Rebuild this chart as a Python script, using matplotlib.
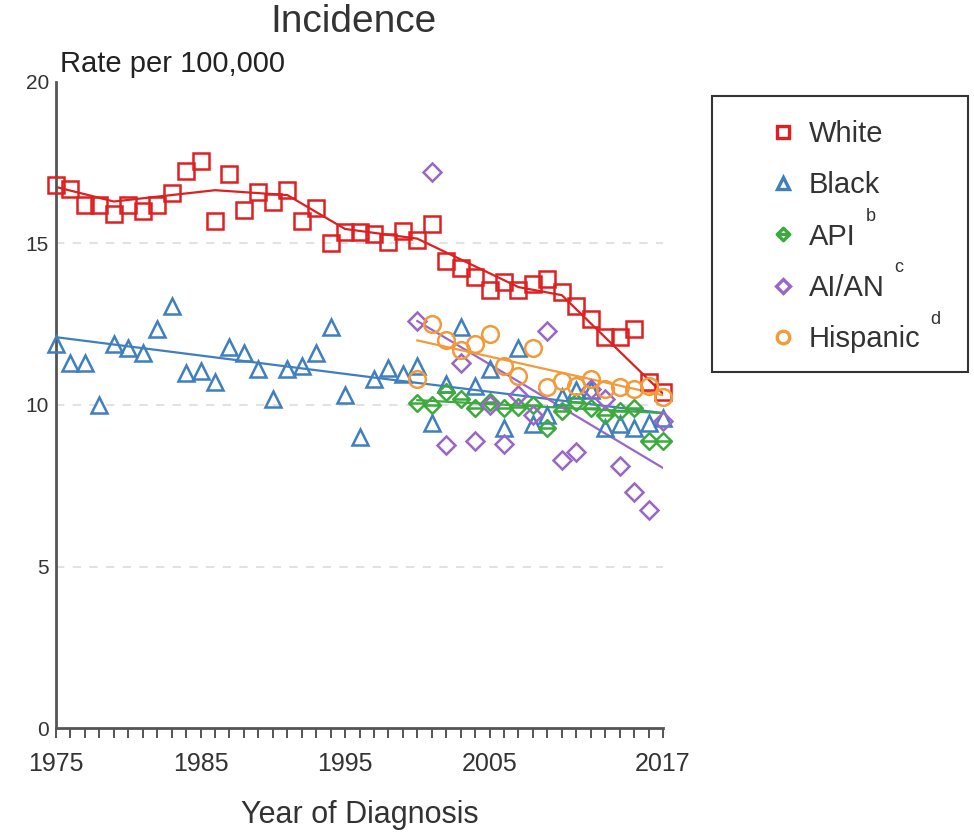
import matplotlib
matplotlib.use('Agg')
import matplotlib.pyplot as plt
from matplotlib.path import Path
from matplotlib.lines import Line2D

plt.rcParams['font.family'] = ['Liberation Sans', 'DejaVu Sans']

# --- data (rate per 100,000) ---
white_years = list(range(1975, 2018))
white_rate = [16.8, 16.7, 16.2, 16.2, 15.9, 16.2, 16.0, 16.2, 16.55, 17.25,
              17.55, 15.7, 17.15, 16.05, 16.6, 16.3, 16.65, 15.7, 16.1, 15.0,
              15.35, 15.35, 15.3, 15.05, 15.4, 15.1, 15.6, 14.45, 14.25, 13.95,
              13.55, 13.8, 13.55, 13.75, 13.9, 13.5, 13.05, 12.65, 12.1, 12.1,
              12.35, 10.7, 10.4]
white_fit_years = [1975, 1979, 1986, 1991, 1995, 2000, 2007, 2010, 2017]
white_fit = [16.75, 16.3, 16.65, 16.5, 15.45, 15.15, 13.65, 13.4, 10.35]

black_years = list(range(1975, 2018))
black_rate = [11.9, 11.3, 11.3, 10.0, 11.9, 11.75, 11.6, 12.35, 13.05, 11.0,
              11.05, 10.7, 11.8, 11.6, 11.1, 10.2, 11.1, 11.2, 11.6, 12.4,
              10.3, 9.0, 10.8, 11.15, 10.95, 11.2, 9.45, 10.65, 12.4, 10.6,
              11.1, 9.3, 11.75, 9.4, 9.7, 10.25, 10.45, 10.45, 9.3, 9.4,
              9.3, 9.45, 9.6]
black_fit_years = [1975, 1997, 2017]
black_fit = [12.1, 10.85, 9.75]

api_years = list(range(2000, 2018))
api_rate = [10.05, 10.0, 10.4, 10.2, 9.9, 10.1, 9.9, 9.95, 10.0, 9.3,
            9.8, 10.1, 9.9, 9.7, 9.8, 9.9, 8.9, 8.9]
api_fit_years = [2000, 2017]
api_fit = [10.15, 9.75]

aian_years = list(range(2000, 2018))
aian_rate = [12.6, 17.2, 8.75, 11.3, 8.9, 10.0, 8.8, 10.3, 9.7, 12.3,
             8.3, 8.55, 10.5, 10.2, 8.1, 7.3, 6.75, 9.5]
aian_fit_years = [2000, 2017]
aian_fit = [12.6, 8.05]

hisp_years = list(range(2000, 2018))
hisp_rate = [10.8, 12.5, 12.0, 11.7, 11.9, 12.2, 11.2, 10.9, 11.75, 10.55,
             10.75, 10.6, 10.8, 10.5, 10.55, 10.5, 10.6, 10.25]
hisp_fit_years = [2000, 2017]
hisp_fit = [12.0, 10.3]

labels = ['White', 'Black', 'API', 'AI/AN', 'Hispanic']
superscripts = ['', '', 'b', 'c', 'd']
colors = ['#e02020', '#3f7fc0', '#3caa3c', '#9a66c8', '#f39a3a']

# diamond with a horizontal bar for API
api_marker = Path([(0, 1), (1, 0), (0, -1), (-1, 0), (0, 1), (-1, 0), (1, 0)],
                  [Path.MOVETO, Path.LINETO, Path.LINETO, Path.LINETO,
                   Path.CLOSEPOLY, Path.MOVETO, Path.LINETO])
markers = ['s', '^', api_marker, 'D', 'o']
msizes = [11, 12, 12, 9, 12]

series = [
    (white_years, white_rate, white_fit_years, white_fit),
    (black_years, black_rate, black_fit_years, black_fit),
    (api_years, api_rate, api_fit_years, api_fit),
    (aian_years, aian_rate, aian_fit_years, aian_fit),
    (hisp_years, hisp_rate, hisp_fit_years, hisp_fit),
]

fig = plt.figure(figsize=(9.74, 8.35), dpi=100)
ax = fig.add_axes([56 / 974, 1 - 728 / 835, 607 / 974, 646 / 835])

for y in [5, 10, 15]:
    ax.axhline(y, color='#dddddd', lw=1.2, ls=(0, (5, 5)), zorder=0)

handles = []
for (yrs, vals, fy, fv), c, m, ms in zip(series, colors, markers, msizes):
    ax.plot(yrs, vals, ls='none', marker=m, ms=ms, mfc='none', mec=c,
            mew=1.8, clip_on=False, zorder=3)
    ax.plot(fy, fv, color=c, lw=1.6, zorder=2)
    handles.append(Line2D([], [], ls='none', marker=m, ms=ms * 0.75,
                          mfc='none', mec=c, mew=2.4))

ax.set_xlim(1975, 2017)
ax.set_ylim(0, 20)
ax.set_yticks([0, 5, 10, 15, 20])
ax.set_xticks([1975, 1985, 1995, 2005, 2017])
ax.set_xticks(range(1975, 2018), minor=True)
for s in ['top', 'right']:
    ax.spines[s].set_visible(False)
for s in ['left', 'bottom']:
    ax.spines[s].set_color('#555555')
    ax.spines[s].set_linewidth(2)
ax.tick_params(axis='y', length=0, pad=5, labelsize=15, labelcolor='#333333')
ax.tick_params(axis='x', which='both', length=7, width=1.4, color='#555555',
               direction='out', pad=10, labelsize=18, labelcolor='#333333')

fig.text(353 / 974, 1 - 22 / 835, 'Incidence', ha='center', va='center',
         fontsize=28, color='#333333')
fig.text(60 / 974, 1 - 64 / 835, 'Rate per 100,000', ha='left', va='center',
         fontsize=21, color='#222222')
fig.text(360 / 974, 1 - 815 / 835, 'Year of Diagnosis', ha='center',
         va='center', fontsize=22, color='#333333')

# legend box
box = plt.Rectangle((712 / 974, 1 - 372 / 835), 256 / 974, 276 / 835,
                    transform=fig.transFigure, fill=False, ec='#333333',
                    lw=1.5)
fig.patches.append(box)
leg = fig.legend(handles, labels, loc='upper left',
                 bbox_to_anchor=(768 / 974, 1 - 120 / 835), frameon=False,
                 fontsize=21, labelspacing=0.8, handletextpad=0.4,
                 handlelength=1.0, borderpad=0, borderaxespad=0,
                 labelcolor='#333333')

fig.canvas.draw()
renderer = fig.canvas.get_renderer()
inv = fig.transFigure.inverted()
for txt, sup in zip(leg.get_texts(), superscripts):
    if sup:
        bb = txt.get_window_extent(renderer)
        x0, y0 = inv.transform((bb.x1 + 10, (bb.y0 + bb.y1) / 2 + 20))
        fig.text(x0, y0, sup, ha='left', va='center', fontsize=13,
                 color='#333333')

fig.savefig('out.png', dpi=100)
